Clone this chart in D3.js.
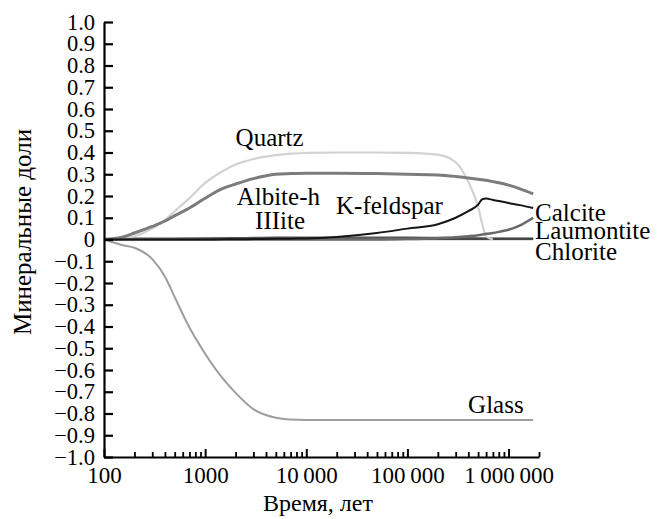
<!DOCTYPE html>
<html><head><meta charset="utf-8">
<script src="https://cdn.jsdelivr.net/npm/d3@7"></script>
<style>
html,body{margin:0;padding:0;background:#fff;}
svg text{fill:#000;}
</style></head>
<body><svg id="c" width="664" height="519"></svg>
<script>
// ---- data ----
const times = [100,150,200,300,400,500,700,1000,1500,2000,3000,5000,7000,10000,20000,50000,100000,200000,300000,400000,500000,550000,600000,700000,800000,1000000,1300000,1750000];
const quartz = [0,0.005,0.015,0.05,0.09,0.13,0.19,0.26,0.315,0.345,0.37,0.388,0.395,0.398,0.4,0.4,0.398,0.39,0.355,0.265,0.15,0.07,0.015,0,null,null,null,null];
const albite = [0,0.01,0.03,0.06,0.085,0.11,0.145,0.19,0.235,0.255,0.28,0.3,0.303,0.305,0.305,0.303,0.3,0.297,0.29,0.283,0.277,0.275,0.272,0.266,0.261,0.25,0.233,0.21];
const glass = [0,-0.025,-0.038,-0.09,-0.17,-0.265,-0.405,-0.525,-0.64,-0.705,-0.78,-0.82,-0.828,-0.83,-0.83,-0.83,-0.83,-0.83,-0.83,-0.83,-0.83,-0.83,-0.83,-0.83,-0.83,-0.83,-0.83,-0.83];
const calcite = [0,0,0,0,0,0,0,0,0.001,0.001,0.002,0.003,0.004,0.005,0.012,0.03,0.05,0.07,0.1,0.13,0.16,0.185,0.188,0.182,0.177,0.168,0.158,0.145];
const laumontite = [0,0,0,0,0,0,0,0,0,0,0,0,0,0,0,0,0.002,0.006,0.01,0.015,0.02,0.023,0.026,0.03,0.035,0.045,0.065,0.1];
const chlorite = [0,0.003,0.004,0.004,0.004,0.004,0.004,0.004,0.004,0.004,0.004,0.004,0.004,0.004,0.004,0.004,0.004,0.004,0.004,0.004,0.004,0.004,0.004,0.004,0.004,0.004,0.004,0.004];
const illite = [0,0,0.001,0.002,0.003,0.004,0.005,0.006,0.007,0.008,0.009,0.01,0.01,0.01,0.01,0.01,0.01,0.009,0.008,0.007,0.006,0.006,0.005,0.005,0.005,0.005,0.005,0.005];
const kfeldspar = [0,0,0,0,0.001,0.001,0.001,0.002,0.002,0.002,0.002,0.002,0.002,0.002,0.002,0.002,0.002,0.002,0.002,0.002,0.002,0.002,0.002,0.002,0.002,0.002,0.002,0.002];
const yTicks = [1.0,0.9,0.8,0.7,0.6,0.5,0.4,0.3,0.2,0.1,0,-0.1,-0.2,-0.3,-0.4,-0.5,-0.6,-0.7,-0.8,-0.9,-1.0];
const xMajor = [100,1000,10000,100000,1000000];
const xMajorLabels = ["100","1000","10\u2009000","100\u2009000","1\u2009000\u2009000"];
const labelNames = ["Quartz","Albite-h","IIIite","K-feldspar","Calcite","Laumontite","Chlorite","Glass"];
const labelTimes = [2000,2050,3120,19700,1830000,1830000,1830000,398000];
const labelValues = [0.43,0.159,0.048,0.117,0.085,0.002,-0.094,-0.798];

// ---- chart ----
const FONT = "'Liberation Serif','Times New Roman',Times,'DejaVu Serif','Noto Serif',serif";
const svg = d3.select("#c").style("font-family", FONT);
const x = d3.scaleLog().domain([100,2000000]).range([104,539]);
const y = d3.scaleLinear().domain([-1,1]).range([457,22]);

const series = [
  {v: chlorite, color:"#8a8a8a", w:3},
  {v: illite, color:"#555", w:1.5},
  {v: kfeldspar, color:"#333", w:1.2},
  {v: glass, color:"#9e9e9e", w:2},
  {v: quartz, color:"#d2d2d2", w:2.2},
  {v: albite, color:"#7c7c7c", w:3},
  {v: laumontite, color:"#6a6a6a", w:2.5},
  {v: calcite, color:"#151515", w:2}
];
const line = d3.line()
  .defined(d => d[1] !== null)
  .x(d => x(d[0])).y(d => y(d[1]))
  .curve(d3.curveMonotoneX);
series.forEach(s => {
  svg.append("path")
    .datum(times.map((t,i) => [t, s.v[i]]))
    .attr("d", line).attr("fill","none")
    .attr("stroke", s.color).attr("stroke-width", s.w)
    .attr("stroke-linejoin","round");
});

// y axis
const yAxis = d3.axisLeft(y).tickValues(yTicks)
  .tickSizeInner(-9).tickSizeOuter(0).tickPadding(9)
  .tickFormat(d => d === 0 ? "0" : (d < 0 ? "\u2212" + Math.abs(d).toFixed(1) : d.toFixed(1)));
const gy = svg.append("g").attr("transform","translate(104,0)").call(yAxis);
gy.attr("font-family", null).attr("font-size", null);
gy.select(".domain").attr("stroke","#000").attr("stroke-width",2.2);
gy.selectAll(".tick line").attr("stroke","#000").attr("stroke-width",2.2);
gy.selectAll("text").attr("font-size",22.5);

// x axis minor ticks
const minor = [];
[100,1000,10000,100000].forEach(b => { for (let k=2;k<=9;k++) minor.push(b*k); });
minor.push(2000000);
const xMinorAxis = d3.axisBottom(x).tickValues(minor).tickSizeInner(-5).tickSizeOuter(0).tickFormat("");
const gxm = svg.append("g").attr("transform","translate(0,457)").call(xMinorAxis);
gxm.select(".domain").attr("stroke","#000").attr("stroke-width",2.2);
gxm.selectAll(".tick line").attr("stroke","#000").attr("stroke-width",1.8);

const xAxis = d3.axisBottom(x).tickValues(xMajor).tickSizeInner(-8).tickSizeOuter(0).tickPadding(10)
  .tickFormat((d,i) => xMajorLabels[i]);
const gx = svg.append("g").attr("transform","translate(0,457)").call(xAxis);
gx.attr("font-family", null).attr("font-size", null);
gx.select(".domain").remove();
gx.selectAll(".tick line").attr("stroke","#000").attr("stroke-width",2);
gx.selectAll("text").attr("font-size",23);

// axis titles
svg.append("text").attr("x",318).attr("y",511).attr("text-anchor","middle")
  .attr("font-size",24).text("Время, лет");
svg.append("text").attr("transform","translate(31,232) rotate(-90)").attr("text-anchor","middle")
  .attr("font-size",25).text("Минеральные доли");

// series labels
labelNames.forEach((n,i) => {
  svg.append("text").attr("x", x(labelTimes[i])).attr("y", y(labelValues[i]))
    .attr("font-size",25).text(n);
});
</script></body></html>
